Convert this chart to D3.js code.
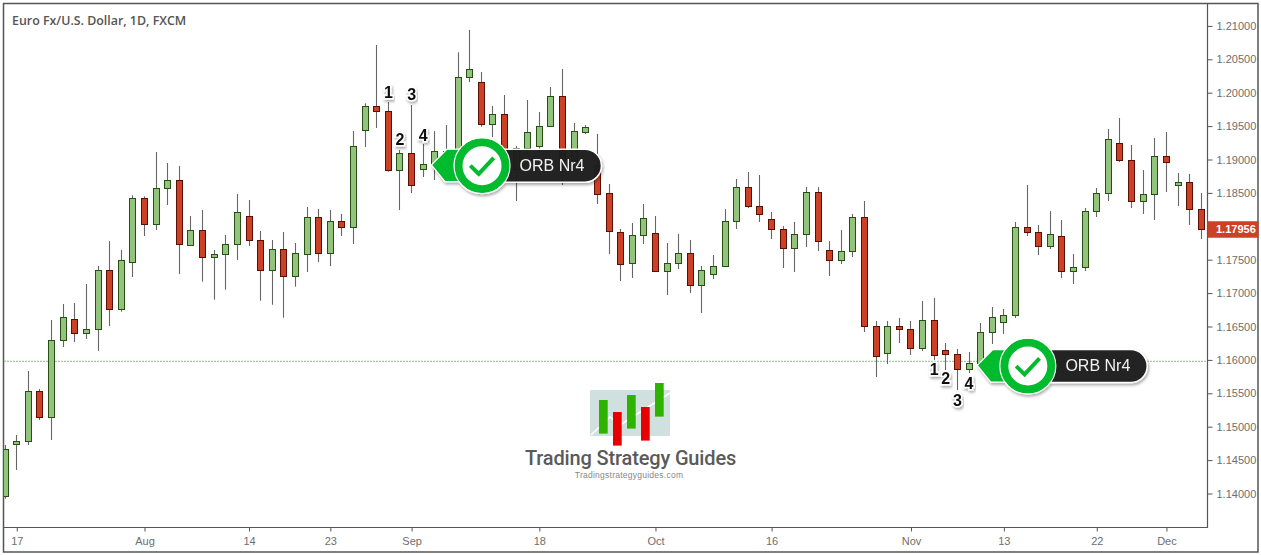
<!DOCTYPE html>
<html>
<head>
<meta charset="utf-8">
<script src="https://cdn.jsdelivr.net/npm/d3@7"></script>
<style>
html, body { margin: 0; padding: 0; background: #fff; overflow: hidden; }
</style>
</head>
<body>
<div id="container"></div>
<script>
const highs = [
    1.14726, 1.14876, 1.15834, 1.15564, 1.16597, 1.16837, 1.16852, 1.17136, 1.17406, 1.17780,
    1.17645, 1.18464, 1.18449, 1.19112, 1.18948, 1.18903, 1.18154, 1.18244, 1.17645, 1.17870,
    1.18484, 1.18394, 1.17930, 1.17795, 1.17915, 1.17750, 1.18289, 1.18259, 1.18244, 1.18184,
    1.19427, 1.19841, 1.20714, 1.19861, 1.19142, 1.19816, 1.19232, 1.19427, 1.19516, 1.20605,
    1.20939, 1.20310, 1.19801, 1.19966, 1.19202, 1.19891, 1.19711, 1.20085, 1.20355, 1.19546,
    1.19516, 1.19382, 1.18633, 1.17960, 1.18049, 1.18334, 1.18154, 1.17750, 1.17885, 1.17795,
    1.17406, 1.17570, 1.18259, 1.18708, 1.18813, 1.18768, 1.18214, 1.18004, 1.18064, 1.18588,
    1.18588, 1.17780, 1.17945, 1.18184, 1.18379, 1.16582, 1.16582, 1.16627, 1.16582, 1.16882,
    1.16927, 1.16253, 1.16163, 1.16118, 1.16552, 1.16792, 1.16762, 1.18064, 1.18618, 1.18019,
    1.18229, 1.18094, 1.17585, 1.18274, 1.18573, 1.19457, 1.19621, 1.19217, 1.18843, 1.19322,
    1.19412, 1.18798, 1.18783, 1.18498
];
const opens = [
    1.13958, 1.14731, 1.14775, 1.15530, 1.15135, 1.16287, 1.16608, 1.16392, 1.16458, 1.17341,
    1.16757, 1.17461, 1.18419, 1.18030, 1.18569, 1.18689, 1.17716, 1.17940, 1.17536, 1.17581,
    1.17731, 1.18150, 1.17790, 1.17341, 1.17656, 1.17252, 1.17581, 1.18135, 1.17596, 1.18075,
    1.17985, 1.19437, 1.19796, 1.19722, 1.18838, 1.19093, 1.18853, 1.18928, 1.19123, 1.18918,
    1.20231, 1.20156, 1.19527, 1.19677, 1.18858, 1.19168, 1.19202, 1.19497, 1.19946, 1.18992,
    1.19416, 1.18918, 1.18494, 1.17922, 1.17443, 1.17859, 1.17895, 1.17320, 1.17446, 1.17596,
    1.17111, 1.17275, 1.17395, 1.18069, 1.18584, 1.18299, 1.18105, 1.17955, 1.17671, 1.17880,
    1.18509, 1.17641, 1.17491, 1.17626, 1.18135, 1.16503, 1.16099, 1.16503, 1.16458, 1.16174,
    1.16593, 1.16144, 1.16084, 1.15859, 1.15949, 1.16413, 1.16563, 1.16668, 1.17985, 1.17910,
    1.17701, 1.17850, 1.17326, 1.17386, 1.18225, 1.18494, 1.19242, 1.18988, 1.18374, 1.18479,
    1.19048, 1.18614, 1.18659, 1.18254
];
const closes = [
    1.14662, 1.14781, 1.15530, 1.15135, 1.16293, 1.16638, 1.16392, 1.16458, 1.17341, 1.16757,
    1.17491, 1.18419, 1.18030, 1.18569, 1.18689, 1.17731, 1.17940, 1.17536, 1.17581, 1.17731,
    1.18210, 1.17790, 1.17341, 1.17656, 1.17252, 1.17596, 1.18135, 1.17596, 1.18075, 1.17985,
    1.19198, 1.19796, 1.19722, 1.18838, 1.19093, 1.18614, 1.18928, 1.19123, 1.18918, 1.20231,
    1.20350, 1.19527, 1.19677, 1.18858, 1.19168, 1.19407, 1.19497, 1.19946, 1.18992, 1.19422,
    1.19487, 1.18488, 1.17922, 1.17440, 1.17865, 1.18120, 1.17320, 1.17446, 1.17596, 1.17111,
    1.17341, 1.17401, 1.18075, 1.18584, 1.18293, 1.18180, 1.17955, 1.17671, 1.17880, 1.18509,
    1.17775, 1.17491, 1.17626, 1.18135, 1.16503, 1.16054, 1.16503, 1.16458, 1.16174, 1.16593,
    1.16069, 1.16078, 1.15859, 1.15949, 1.16413, 1.16638, 1.16668, 1.17985, 1.17910, 1.17701,
    1.17880, 1.17326, 1.17386, 1.18225, 1.18494, 1.19302, 1.18988, 1.18374, 1.18479, 1.19048,
    1.18958, 1.18659, 1.18254, 1.17956
];
const lows = [
    1.13922, 1.14352, 1.14726, 1.15100, 1.14801, 1.16193, 1.16268, 1.16313, 1.16133, 1.16507,
    1.16722, 1.17241, 1.17855, 1.17945, 1.18319, 1.17286, 1.17716, 1.17171, 1.16901, 1.17051,
    1.17495, 1.17705, 1.16886, 1.16826, 1.16632, 1.17096, 1.17316, 1.17466, 1.17406, 1.17855,
    1.17735, 1.19187, 1.19472, 1.18817, 1.18244, 1.18498, 1.18738, 1.18693, 1.18813, 1.18843,
    1.20160, 1.19491, 1.19337, 1.18768, 1.18379, 1.19067, 1.19142, 1.19497, 1.18618, 1.18918,
    1.19382, 1.18334, 1.17585, 1.17181, 1.17226, 1.17735, 1.17320, 1.16972, 1.17361, 1.17001,
    1.16702, 1.17211, 1.17395, 1.17960, 1.18274, 1.18064, 1.17810, 1.17376, 1.17316, 1.17690,
    1.17630, 1.17256, 1.17436, 1.17540, 1.16418, 1.15744, 1.15939, 1.16253, 1.16073, 1.16133,
    1.15998, 1.15849, 1.15549, 1.15804, 1.15909, 1.16238, 1.16388, 1.16627, 1.17855, 1.17570,
    1.17660, 1.17226, 1.17136, 1.17331, 1.18139, 1.18379, 1.18963, 1.18274, 1.18184, 1.18094,
    1.18513, 1.18304, 1.18019, 1.17810
];

// 1.18000 sits under the last price tag, same as the original
const priceTicks = [1.14, 1.145, 1.15, 1.155, 1.16, 1.165, 1.17, 1.175, 1.185, 1.19, 1.195, 1.2, 1.205, 1.21];
const dateTickBars = [1, 12, 21, 28, 35, 46, 56, 66, 78, 86, 94, 100];
const dateTickLabels = ['17', 'Aug', '14', '23', 'Sep', '18', 'Oct', '16', 'Nov', '13', '22', 'Dec'];
const levelPrice = 1.15979;
const lastPrice = 1.17956;

const calloutBars = [36, 83];
const calloutPrices = [1.18915, 1.15915];
const countBars = [33, 34, 35, 36, 80, 81, 82, 83];
const countPrices = [1.20011, 1.19302, 1.19980, 1.19367, 1.15859, 1.15719, 1.15389, 1.15650];
const countLabels = ['1', '2', '3', '4', '1', '2', '3', '4'];

const width = 1261, height = 555;
const plot = { left: 4, right: 1207, top: 4, bottom: 527 };

const x = d3.scaleLinear().domain([0, 103]).range([5.15, 1201.29]);
const y = d3.scaleLinear().domain([1.14, 1.21]).range([493.5, 25.9]);

const svg = d3.select('#container')
    .append('svg')
    .attr('width', width)
    .attr('height', height)
    .style('display', 'block')
    .style('font-family', '"Liberation Sans", Arial, sans-serif');

const defs = svg.append('defs');
defs.append('clipPath').attr('id', 'plot-clip')
    .append('rect')
    .attr('x', plot.left).attr('y', plot.top)
    .attr('width', plot.right - plot.left).attr('height', plot.bottom - plot.top);
defs.append('filter').attr('id', 'soft')
    .attr('x', '-20%').attr('y', '-30%').attr('width', '140%').attr('height', '170%')
    .append('feDropShadow')
    .attr('dx', 1).attr('dy', 2).attr('stdDeviation', 1.5)
    .attr('flood-color', '#000').attr('flood-opacity', 0.35);

// frame
svg.append('rect')
    .attr('x', 3.5).attr('y', 3.5)
    .attr('width', 1254.5).attr('height', 548.5)
    .attr('fill', '#fff')
    .attr('stroke', '#555')
    .attr('stroke-width', 1.5);

const plotG = svg.append('g').attr('clip-path', 'url(#plot-clip)');

plotG.append('line')
    .attr('x1', plot.left).attr('x2', plot.right)
    .attr('y1', y(levelPrice)).attr('y2', y(levelPrice))
    .attr('stroke', '#8fb98a')
    .attr('stroke-width', 1)
    .attr('stroke-dasharray', '2 1');

// logo sits under the candles
const logo = plotG.append('g').attr('transform', 'translate(590,383)');
logo.append('rect')
    .attr('x', 0).attr('y', 7).attr('width', 80).attr('height', 46)
    .attr('fill', '#cfe0df');
logo.append('path')
    .attr('d', 'M1,52 L20,34 L30,42 L80,10')
    .attr('fill', 'none').attr('stroke', '#fff').attr('stroke-width', 1.5);
logo.selectAll('.logo-bar')
    .data([[9, 17, '#2db300'], [23, 29, '#e60000'], [37, 12, '#2db300'], [51, 24, '#e60000'], [65, 0, '#2db300']])
    .enter()
    .append('rect')
    .attr('class', 'logo-bar')
    .attr('x', d => d[0]).attr('y', d => d[1])
    .attr('width', 8.7).attr('height', 33.6)
    .attr('fill', d => d[2]);
plotG.append('text')
    .attr('x', 630.5).attr('y', 465)
    .attr('text-anchor', 'middle')
    .style('font-family', 'Roboto')
    .style('font-weight', 500)
    .style('font-size', '20px')
    .style('letter-spacing', '-0.15px')
    .attr('fill', '#5a5a5a')
    .text('Trading Strategy Guides');
plotG.append('text')
    .attr('x', 629).attr('y', 478)
    .attr('text-anchor', 'middle')
    .style('font-size', '8.5px')
    .style('letter-spacing', '0.25px')
    .attr('fill', '#888')
    .text('Tradingstrategyguides.com');

// candles
const candles = plotG.selectAll('.candle')
    .data(d3.range(opens.length))
    .enter()
    .append('g')
    .attr('class', 'candle');

candles.append('line')
    .attr('x1', d => Math.floor(x(d)) + 0.5)
    .attr('x2', d => Math.floor(x(d)) + 0.5)
    .attr('y1', d => y(highs[d]))
    .attr('y2', d => y(lows[d]))
    .attr('stroke', '#666')
    .attr('stroke-width', 1.1);

candles.append('rect')
    .attr('x', d => Math.floor(x(d)) - 2.5)
    .attr('width', 6)
    .attr('y', d => Math.round(y(Math.max(opens[d], closes[d]))) + 0.5)
    .attr('height', d => Math.max(1, Math.round(Math.abs(y(opens[d]) - y(closes[d])))))
    .attr('fill', d => closes[d] >= opens[d] ? '#92c47d' : '#cc4125')
    .attr('stroke', d => closes[d] >= opens[d] ? '#274e13' : '#5b0f00')
    .attr('stroke-width', 1);

// axes
const priceAxis = d3.axisRight(y)
    .tickValues(priceTicks)
    .tickFormat(d3.format('.5f'))
    .tickSize(5)
    .tickPadding(4);
const priceG = svg.append('g')
    .attr('transform', `translate(${plot.right + 0.5},0)`)
    .call(priceAxis);

const dateAxis = d3.axisBottom(x)
    .tickValues(dateTickBars)
    .tickFormat((d, i) => dateTickLabels[i])
    .tickSize(4)
    .tickPadding(6);
const dateG = svg.append('g')
    .attr('transform', `translate(0,${plot.bottom + 0.5})`)
    .call(dateAxis);

[priceG, dateG].forEach(g => {
    g.select('.domain').remove();
    g.selectAll('.tick line').attr('stroke', '#555');
    g.selectAll('.tick text')
        .attr('fill', '#6e6e6e')
        .style('font-size', '11px')
        .style('font-family', '"Liberation Sans", Arial, sans-serif');
});

svg.append('line')
    .attr('x1', plot.right + 0.5).attr('x2', plot.right + 0.5)
    .attr('y1', plot.top).attr('y2', plot.bottom + 1)
    .attr('stroke', '#555').attr('stroke-width', 1.2);
svg.append('line')
    .attr('x1', plot.left).attr('x2', plot.right + 1)
    .attr('y1', plot.bottom + 0.5).attr('y2', plot.bottom + 0.5)
    .attr('stroke', '#555').attr('stroke-width', 1.2);

// last price tag
svg.append('rect')
    .attr('x', plot.right + 0.5)
    .attr('y', y(lastPrice) - 8)
    .attr('width', 51)
    .attr('height', 16.5)
    .attr('fill', '#cc4125');
svg.append('text')
    .attr('x', plot.right + 9)
    .attr('y', y(lastPrice) + 4)
    .attr('fill', '#fff')
    .style('font-size', '11px')
    .style('font-weight', 700)
    .text(d3.format('.5f')(lastPrice));

// title
svg.append('text')
    .attr('x', 12).attr('y', 25)
    .attr('fill', '#555')
    .style('font-family', '"Open Sans"')
    .style('font-weight', 600)
    .style('font-size', '12.4px')
    .text('Euro Fx/U.S. Dollar, 1D, FXCM');

// numbered bars
svg.selectAll('.count')
    .data(countLabels)
    .enter()
    .append('text')
    .attr('class', 'count')
    .attr('x', (d, i) => x(countBars[i]))
    .attr('y', (d, i) => y(countPrices[i]))
    .attr('dy', '0.36em')
    .attr('text-anchor', 'middle')
    .attr('fill', '#111')
    .attr('stroke', '#fff')
    .attr('stroke-width', 3)
    .attr('paint-order', 'stroke')
    .attr('filter', 'url(#soft)')
    .style('font-size', '16px')
    .style('font-weight', 700)
    .text(d => d);

// ORB callouts
const callouts = svg.selectAll('.callout')
    .data(calloutBars)
    .enter()
    .append('g')
    .attr('class', 'callout')
    .attr('filter', 'url(#soft)')
    .attr('transform', (d, i) => `translate(${x(d) + 58.8},${y(calloutPrices[i]) + 0.5})`);

callouts.append('rect')
    .attr('x', 0).attr('y', -16.5)
    .attr('width', 119.4).attr('height', 33)
    .attr('rx', 16.5)
    .attr('fill', '#1c1c1c')
    .attr('fill-opacity', 0.96)
    .attr('stroke', '#fff')
    .attr('stroke-width', 1.5);

callouts.append('path')
    .attr('d', 'M-50.6,-0.7 L-35,-16.5 L-10,-16.5 L-10,16 L-37,16 Z')
    .attr('fill', '#00bb2d')
    .attr('stroke', '#fff')
    .attr('stroke-width', 1.2);

callouts.append('circle')
    .attr('r', 23.5)
    .attr('fill', '#fff')
    .attr('stroke', '#00bb2d')
    .attr('stroke-width', 8);
callouts.append('circle')
    .attr('r', 28)
    .attr('fill', 'none')
    .attr('stroke', '#fff')
    .attr('stroke-width', 1.2);

callouts.append('path')
    .attr('d', 'M-11.7,0 L-3.3,8.3 L11.7,-7.7')
    .attr('fill', 'none')
    .attr('stroke', '#00bb2d')
    .attr('stroke-width', 4);

callouts.append('text')
    .attr('x', 70)
    .attr('y', 5)
    .attr('text-anchor', 'middle')
    .attr('fill', '#f2f2f2')
    .style('font-size', '16px')
    .text('ORB Nr4');
</script>
</body>
</html>
